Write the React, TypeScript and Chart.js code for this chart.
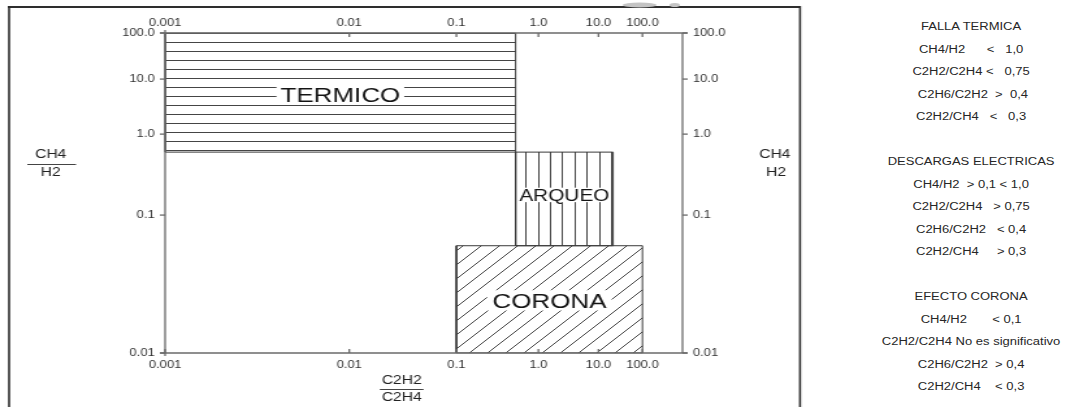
import React, { useEffect, useRef } from 'react';
import { Chart, registerables, LinearScale } from 'chart.js';

Chart.register(...registerables);

// ---------------- data ----------------
const X_TICK_VALUES = [0.001, 0.01, 0.1, 1, 10, 100];
const X_TICK_LABELS = ['0.001', '0.01', '0.1', '1.0', '10.0', '100.0'];
const Y_TICK_VALUES = [0.01, 0.1, 1, 10, 100];
const Y_TICK_LABELS = ['0.01', '0.1', '1.0', '10.0', '100.0'];

// the printed nomogram is not evenly logarithmic: where each decade mark sits along its axis (0..1)
const X_STOPS = [0.001, 0.01, 0.1, 1, 10, 100, 1000];
const X_STOP_POS = [0, 0.356, 0.563, 0.7215, 0.8375, 0.9226, 1];
const Y_STOPS = [0.01, 0.1, 1, 10, 100];
const Y_STOP_POS = [0, 0.431, 0.684, 0.856, 1];

const REGION_NAMES = ['TERMICO', 'ARQUEO', 'CORONA'];
const TERMICO_X = [0.001, 0.75];
const TERMICO_Y = [0.8, 100];
const ARQUEO_X = [0.75, 40];
const ARQUEO_Y = [0.08, 0.8];
const CORONA_X = [0.1, 100];
const CORONA_Y = [0.01, 0.08];

const LEFT_TITLE = ['CH4', 'H2'];
const RIGHT_TITLE = ['CH4', 'H2'];
const BOTTOM_TITLE = ['C2H2', 'C2H4'];

const PANEL_GROUPS = [
  ['FALLA TERMICA', 'CH4/H2      <   1,0', 'C2H2/C2H4 <   0,75', ' C2H6/C2H2  >  0,4', 'C2H2/CH4   <   0,3'],
  ['DESCARGAS ELECTRICAS', 'CH4/H2  > 0,1 < 1,0', 'C2H2/C2H4   > 0,75', 'C2H6/C2H2   < 0,4', 'C2H2/CH4     > 0,3'],
  ['EFECTO CORONA', 'CH4/H2       < 0,1', 'C2H2/C2H4 No es significativo', 'C2H6/C2H2  > 0,4', 'C2H2/CH4    < 0,3'],
];

// ---------------- styling ----------------
const FONT = "'Liberation Sans', Arial, Helvetica, sans-serif";
const STRETCH = 1.3; // the reference is drawn horizontally stretched
const NAT_W = 820;
const CANVAS_W = 620;
const H = 407;
const REGION_STYLE: Record<string, { size: number; dy: number; padX: number; padY: number }> = {
  TERMICO: { size: 20, dy: 2, padX: 3, padY: 3 },
  ARQUEO: { size: 16, dy: -4, padX: 1, padY: 1.5 },
  CORONA: { size: 20, dy: 1, padX: 4, padY: 3 },
};

function interp(v: number, stops: number[], pos: number[]) {
  if (v <= stops[0]) return pos[0];
  for (let i = 1; i < stops.length; i++) {
    if (v <= stops[i]) {
      return pos[i - 1] + ((v - stops[i - 1]) / (stops[i] - stops[i - 1])) * (pos[i] - pos[i - 1]);
    }
  }
  return pos[pos.length - 1];
}
function invert(f: number, stops: number[], pos: number[]) {
  if (f <= pos[0]) return stops[0];
  for (let i = 1; i < pos.length; i++) {
    if (f <= pos[i]) {
      return stops[i - 1] + ((f - pos[i - 1]) / (pos[i] - pos[i - 1])) * (stops[i] - stops[i - 1]);
    }
  }
  return stops[stops.length - 1];
}

function makeScale(scaleId: string, stops: number[], pos: number[], ticks: number[]) {
  class PiecewiseScale extends (LinearScale as any) {
    static id = scaleId;
    determineDataLimits() {
      this.min = stops[0];
      this.max = stops[stops.length - 1];
    }
    buildTicks() {
      return ticks.map((value) => ({ value }));
    }
    getPixelForValue(value: number) {
      return this.getPixelForDecimal(interp(value, stops, pos));
    }
    getValueForPixel(pixel: number) {
      return invert(this.getDecimalForPixel(pixel), stops, pos);
    }
  }
  return PiecewiseScale;
}

Chart.register(
  makeScale('pwx', X_STOPS, X_STOP_POS, X_TICK_VALUES) as any,
  makeScale('pwy', Y_STOPS, Y_STOP_POS, Y_TICK_VALUES) as any
);

function rect(xr: number[], yr: number[]) {
  return [
    { x: xr[0], y: yr[0] },
    { x: xr[1], y: yr[0] },
    { x: xr[1], y: yr[1] },
    { x: xr[0], y: yr[1] },
    { x: xr[0], y: yr[0] },
  ];
}

const HATCH = '#454545';

function makeTile(w: number, h: number, draw: (c: CanvasRenderingContext2D) => void) {
  const cv = document.createElement('canvas');
  cv.width = w;
  cv.height = h;
  const c = cv.getContext('2d')!;
  draw(c);
  return c.createPattern(cv, 'repeat')!;
}

export default function App() {
  const ref = useRef<HTMLCanvasElement>(null);

  useEffect(() => {
    const canvas = ref.current!;
    const hPat = makeTile(4, 9, (c) => {
      c.fillStyle = HATCH;
      c.fillRect(0, 6, 4, 1);
    });
    const vPat = makeTile(47, 4, (c) => {
      c.fillStyle = HATCH;
      [0, 9, 19, 28, 38].forEach((x) => c.fillRect(x, 0, 1, 4));
    });
    const dPat = makeTile(14, 14, (c) => {
      c.strokeStyle = HATCH;
      c.lineWidth = 1;
      c.beginPath();
      c.moveTo(-1, 15);
      c.lineTo(15, -1);
      c.moveTo(-1, 1);
      c.lineTo(1, -1);
      c.moveTo(13, 15);
      c.lineTo(15, 13);
      c.stroke();
    });

    const regions = [
      { name: REGION_NAMES[0], x: TERMICO_X, y: TERMICO_Y, pat: hPat },
      { name: REGION_NAMES[1], x: ARQUEO_X, y: ARQUEO_Y, pat: vPat },
      { name: REGION_NAMES[2], x: CORONA_X, y: CORONA_Y, pat: dPat },
    ];

    const line = (ctx: CanvasRenderingContext2D, x1: number, y1: number, x2: number, y2: number) => {
      ctx.beginPath();
      ctx.moveTo(x1, y1);
      ctx.lineTo(x2, y2);
      ctx.stroke();
    };

    const decor = {
      id: 'decor',
      beforeDraw(chart: any) {
        const ctx = chart.ctx;
        ctx.save();
        ctx.fillStyle = '#ffffff';
        ctx.fillRect(0, 0, chart.width, chart.height);
        ctx.restore();
      },
      afterDatasetsDraw(chart: any) {
        const ctx: CanvasRenderingContext2D = chart.ctx;
        const xs = chart.scales.x;
        const ys = chart.scales.y;
        const { left, right, top, bottom } = chart.chartArea;
        ctx.save();

        // axes
        ctx.strokeStyle = '#6a6a6a';
        ctx.lineWidth = 1.3;
        line(ctx, left - 4, top, right + 4, top);
        line(ctx, left - 4, bottom, right + 4, bottom);
        line(ctx, left, top - 3, left, bottom + 3);
        line(ctx, right, top, right, bottom);
        Y_TICK_VALUES.forEach((v) => {
          const y = ys.getPixelForValue(v);
          line(ctx, left - 4, y, left, y);
          line(ctx, right, y, right + 4, y);
        });
        X_TICK_VALUES.forEach((v) => {
          const x = xs.getPixelForValue(v);
          line(ctx, x, top, x, top + 4);
          line(ctx, x, bottom, x, bottom - 4);
        });

        // region labels
        regions.forEach((r) => {
          const st = REGION_STYLE[r.name];
          const cx = (xs.getPixelForValue(r.x[0]) + xs.getPixelForValue(r.x[1])) / 2;
          const cy = (ys.getPixelForValue(r.y[0]) + ys.getPixelForValue(r.y[1])) / 2 + st.dy;
          ctx.font = `${st.size}px ${FONT}`;
          const w = ctx.measureText(r.name).width;
          const cap = st.size * 0.716;
          ctx.fillStyle = '#ffffff';
          ctx.fillRect(cx - w / 2 - st.padX, cy - cap / 2 - st.padY, w + 2 * st.padX, cap + 2 * st.padY);
          ctx.fillStyle = '#141414';
          ctx.textAlign = 'center';
          ctx.textBaseline = 'alphabetic';
          ctx.fillText(r.name, cx, cy + cap / 2);
        });

        // axis titles
        ctx.fillStyle = '#222222';
        ctx.font = `12px ${FONT}`;
        ctx.textAlign = 'center';
        ctx.textBaseline = 'middle';
        ctx.strokeStyle = '#444444';
        ctx.lineWidth = 1;
        // left
        ctx.fillText(LEFT_TITLE[0], 39, 155);
        line(ctx, 21, 164.5, 58.5, 164.5);
        ctx.fillText(LEFT_TITLE[1], 39, 173);
        // right
        ctx.fillText(RIGHT_TITLE[0], 596, 155);
        ctx.fillText(RIGHT_TITLE[1], 597, 173);
        // bottom
        const bx = 309;
        ctx.fillText(BOTTOM_TITLE[0], bx, 381);
        const bw = ctx.measureText(BOTTOM_TITLE[0]).width + 3;
        line(ctx, bx - bw / 2, 389.5, bx + bw / 2, 389.5);
        ctx.fillText(BOTTOM_TITLE[1], bx, 397.5);

        // outer frame
        ctx.strokeStyle = '#2e2e2e';
        ctx.lineWidth = 2;
        line(ctx, 6, 7, 616, 7);
        ctx.lineWidth = 1.6;
        line(ctx, 7, 6, 7, H);
        line(ctx, 615.4, 6, 615.4, H);

        // faint cropped marks above frame
        ctx.fillStyle = '#c4c4c4';
        ctx.beginPath();
        ctx.ellipse(492, 5, 13, 2.5, 0, 0, Math.PI * 2);
        ctx.fill();
        ctx.beginPath();
        ctx.ellipse(519, 5, 4, 2, 0, 0, Math.PI * 2);
        ctx.fill();

        ctx.restore();
      },
    };

    const tickFont = { family: FONT, size: 10 };
    const grid = { display: false, drawTicks: false, tickLength: 0 };
    const chart = new Chart(canvas, {
      type: 'scatter',
      data: {
        datasets: regions.map((r) => ({
          label: r.name,
          data: rect(r.x, r.y),
          showLine: true,
          fill: 'shape',
          backgroundColor: r.pat,
          borderColor: '#3a3a3a',
          borderWidth: 1,
          pointRadius: 0,
          pointHoverRadius: 0,
          tension: 0,
          xAxisID: 'x',
          yAxisID: 'y',
        })),
      } as any,
      options: {
        animation: false,
        responsive: false,
        maintainAspectRatio: false,
        devicePixelRatio: 1,
        events: [],
        layout: { padding: 0 },
        plugins: { legend: { display: false }, tooltip: { enabled: false }, title: { display: false } },
        scales: {
          x: {
            type: 'pwx',
            position: 'bottom',
            grid,
            border: { display: false },
            ticks: { autoSkip: false, maxRotation: 0, padding: 6, font: tickFont, color: '#333', callback: (_v: any, i: number) => X_TICK_LABELS[i] },
            afterFit: (s: any) => { s.height = 54; },
          },
          x2: {
            type: 'pwx',
            position: 'top',
            grid,
            border: { display: false },
            ticks: { autoSkip: false, maxRotation: 0, padding: 4, font: tickFont, color: '#333', callback: (_v: any, i: number) => X_TICK_LABELS[i] },
            afterFit: (s: any) => { s.height = 33; },
          },
          y: {
            type: 'pwy',
            position: 'left',
            grid,
            border: { display: false },
            ticks: { autoSkip: false, padding: 8, font: tickFont, color: '#333', callback: (_v: any, i: number) => Y_TICK_LABELS[i] },
            afterFit: (s: any) => { s.width = 127; },
          },
          y2: {
            type: 'pwy',
            position: 'right',
            grid,
            border: { display: false },
            ticks: { autoSkip: false, padding: 8, font: tickFont, color: '#333', callback: (_v: any, i: number) => Y_TICK_LABELS[i] },
            afterFit: (s: any) => { s.width = CANVAS_W - 525; },
          },
        } as any,
      },
      plugins: [decor],
    } as any);
    return () => chart.destroy();
  }, []);

  const panelCenter = 747;
  return (
    <div
      style={{
        position: 'absolute',
        left: 0,
        top: 0,
        width: NAT_W,
        height: H,
        transform: `scaleX(${STRETCH})`,
        transformOrigin: '0 0',
        background: '#fff',
        overflow: 'hidden',
      }}
    >
      <canvas ref={ref} width={CANVAS_W} height={H} style={{ position: 'absolute', left: 0, top: 0 }} />
      {PANEL_GROUPS.map((g, gi) =>
        g.map((t, i) => (
          <div
            key={`${gi}-${i}`}
            style={{
              position: 'absolute',
              left: panelCenter - 120,
              width: 240,
              top: 27 + gi * 135 + i * 22.5 - 7,
              height: 14,
              lineHeight: '14px',
              fontSize: 10,
              fontFamily: FONT,
              color: '#262626',
              textAlign: 'center',
              whiteSpace: 'pre',
            }}
          >
            {t}
          </div>
        ))
      )}
    </div>
  );
}
